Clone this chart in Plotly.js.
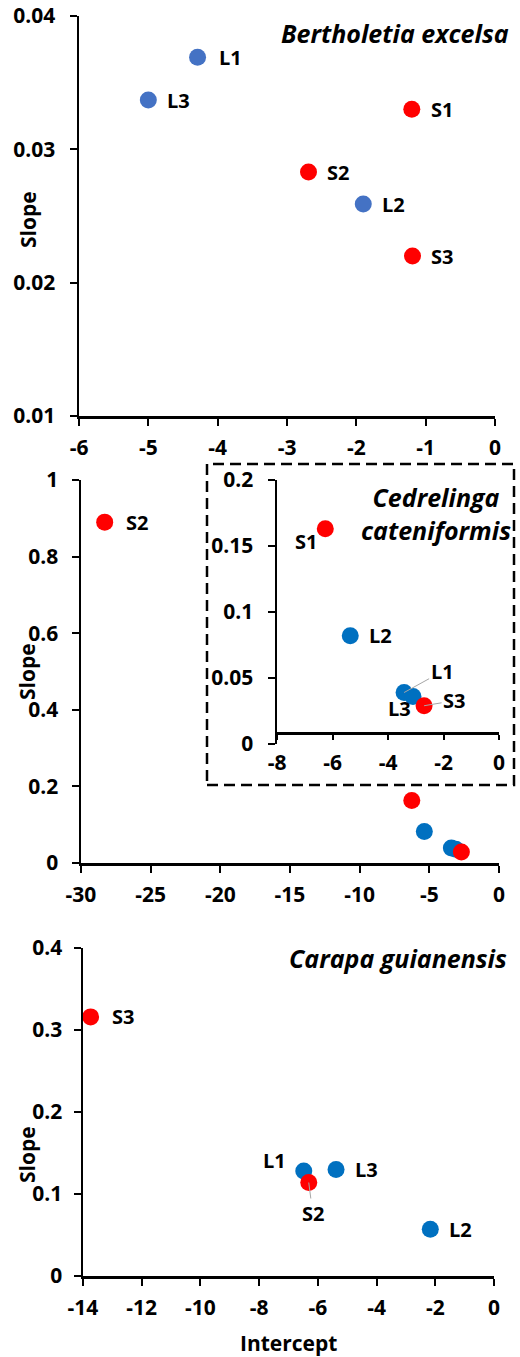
<!DOCTYPE html>
<html>
<head>
<meta charset="utf-8">
<script src="https://cdn.plot.ly/plotly-3.0.1.min.js"></script>
<style>
  html, body { margin: 0; padding: 0; background: #fff; }
  #chart { width: 520px; height: 1357px; }
</style>
</head>
<body>
<div id="chart"></div>
<script>
// ---------- DATA ----------
// Bertholetia excelsa
const beLabels    = ['L1', 'L2', 'L3', 'S1', 'S2', 'S3'];
const beGroup     = ['L', 'L', 'L', 'S', 'S', 'S'];
const beIntercept = [-4.29, -1.90, -5.00, -1.20, -2.69, -1.19];
const beSlope     = [0.0369, 0.0259, 0.0337, 0.0330, 0.0283, 0.0220];

// Cedrelinga cateniformis
const ccLabels    = ['L1', 'L2', 'L3', 'S1', 'S2', 'S3'];
const ccGroup     = ['L', 'L', 'L', 'S', 'S', 'S'];
const ccIntercept = [-3.42, -5.36, -3.10, -6.26, -28.3, -2.70];
const ccSlope     = [0.039, 0.082, 0.036, 0.163, 0.890, 0.029];

// Carapa guianensis
const cgLabels    = ['L1', 'L2', 'L3', 'S2', 'S3'];
const cgGroup     = ['L', 'L', 'L', 'S', 'S'];
const cgIntercept = [-6.48, -2.17, -5.38, -6.31, -13.74];
const cgSlope     = [0.128, 0.057, 0.130, 0.114, 0.316];

// Tick labels
const beXTicks = [-6, -5, -4, -3, -2, -1, 0];
const beYTicks = [0.01, 0.02, 0.03, 0.04];
const ccXTicks = [-30, -25, -20, -15, -10, -5, 0];
const ccYTicks = [0, 0.2, 0.4, 0.6, 0.8, 1];
const inXTicks = [-8, -6, -4, -2, 0];
const inYTicks = [0, 0.05, 0.1, 0.15, 0.2];
const cgXTicks = [-14, -12, -10, -8, -6, -4, -2, 0];
const cgYTicks = [0, 0.1, 0.2, 0.3, 0.4];

const titles = ['Bertholetia excelsa', 'Cedrelinga<br>cateniformis', 'Carapa guianensis'];

// ---------- STYLE ----------
const W = 520, H = 1357;
const px = v => v / W;          // pixel -> paper x
const py = v => 1 - v / H;      // pixel -> paper y
const RED = '#FF0000';
const BLUE1 = '#4472C4';
const BLUE2 = '#0070C0';
const FONT = '"Open Sans", sans-serif';
const tickFont = {family: FONT, size: 21, weight: 'bold', color: '#000'};
const labFont  = {family: FONT, size: 20, weight: 'bold', color: '#000'};

const fmt = v => String(v).replace('\u2212', '-');
function pick(arr, grp, g) { return arr.filter((_, i) => grp[i] === g); }

function axisBase(extra) {
  return Object.assign({
    showgrid: false, zeroline: false, showline: true,
    linecolor: '#000', linewidth: 2.5,
    ticks: 'outside', ticklen: 7, tickwidth: 2, tickcolor: '#000',
    tickfont: tickFont, fixedrange: true
  }, extra);
}

function scatterPair(xArr, yArr, grp, xa, ya, blue) {
  return [
    {type: 'scatter', mode: 'markers', xaxis: xa, yaxis: ya,
     x: pick(xArr, grp, 'L'), y: pick(yArr, grp, 'L'),
     marker: {color: blue, size: 17}, hoverinfo: 'skip', cliponaxis: false},
    {type: 'scatter', mode: 'markers', xaxis: xa, yaxis: ya,
     x: pick(xArr, grp, 'S'), y: pick(yArr, grp, 'S'),
     marker: {color: RED, size: 17}, hoverinfo: 'skip', cliponaxis: false}
  ];
}

const notS2 = (_, i) => ccLabels[i] !== 'S2';
const data = [].concat(
  scatterPair(beIntercept, beSlope, beGroup, 'x', 'y', BLUE1),
  scatterPair(ccIntercept, ccSlope, ccGroup, 'x2', 'y2', BLUE2),
  scatterPair(ccIntercept.filter(notS2), ccSlope.filter(notS2), ccGroup.filter(notS2), 'x3', 'y3', BLUE2),
  scatterPair(cgIntercept, cgSlope, cgGroup, 'x4', 'y4', BLUE2)
);

// ---------- LABEL ANNOTATIONS ----------
const annotations = [];
function rightLabel(xr, yr, lab, xa, ya, shift) {
  annotations.push({x: xr, y: yr, xref: xa, yref: ya, text: lab, showarrow: false,
    xanchor: 'left', yanchor: 'middle', xshift: shift, font: labFont});
}
beLabels.forEach((lab, i) => rightLabel(beIntercept[i], beSlope[i], lab, 'x', 'y', lab === 'L1' ? 19 : 17));
ccLabels.forEach((lab, i) => {
  if (lab === 'S2') rightLabel(ccIntercept[i], ccSlope[i], lab, 'x2', 'y2', 19);
});
ccLabels.forEach((lab, i) => {
  const x = ccIntercept[i], y = ccSlope[i];
  if (lab === 'S2') return;
  if (lab === 'L2') rightLabel(x, y, lab, 'x3', 'y3', 17);
  if (lab === 'S1') annotations.push({x, y, xref: 'x3', yref: 'y3', text: lab, showarrow: false,
    xanchor: 'right', yanchor: 'middle', xshift: -6, yshift: -13, font: labFont});
  if (lab === 'L3') annotations.push({x, y, xref: 'x3', yref: 'y3', text: lab, showarrow: false,
    xanchor: 'center', yanchor: 'middle', xshift: -13, yshift: -12, font: labFont});
  if (lab === 'L1') annotations.push({x, y, xref: 'x3', yref: 'y3', text: lab, showarrow: true,
    ax: 38, ay: -21, arrowhead: 0, arrowwidth: 1, arrowcolor: '#A6A6A6', standoff: 0, font: labFont});
  if (lab === 'S3') annotations.push({x, y, xref: 'x3', yref: 'y3', text: lab, showarrow: true,
    ax: 30, ay: -5, arrowhead: 0, arrowwidth: 1, arrowcolor: '#A6A6A6', standoff: 0, font: labFont});
});
cgLabels.forEach((lab, i) => {
  const x = cgIntercept[i], y = cgSlope[i];
  if (lab === 'L1') annotations.push({x, y, xref: 'x4', yref: 'y4', text: lab, showarrow: false,
    xanchor: 'right', yanchor: 'middle', xshift: -16, yshift: 11, font: labFont});
  else if (lab === 'S2') annotations.push({x, y, xref: 'x4', yref: 'y4', text: lab, showarrow: true,
    ax: 4, ay: 31, arrowhead: 0, arrowwidth: 1, arrowcolor: '#A6A6A6', standoff: 0, font: labFont});
  else rightLabel(x, y, lab, 'x4', 'y4', lab === 'S3' ? 19 : 17);
});

// panel titles
const titleFont = {family: FONT, size: 25, weight: 'bold', style: 'italic', color: '#000'};
annotations.push({xref: 'paper', yref: 'paper', x: px(511), y: py(33), text: titles[0],
  showarrow: false, xanchor: 'right', yanchor: 'middle', font: titleFont});
annotations.push({xref: 'paper', yref: 'paper', x: px(436), y: py(513), text: titles[1],
  showarrow: false, xanchor: 'center', yanchor: 'middle', align: 'center', font: titleFont});
annotations.push({xref: 'paper', yref: 'paper', x: px(509), y: py(958), text: titles[2],
  showarrow: false, xanchor: 'right', yanchor: 'middle', font: titleFont});

// axis titles
const axTitleFont = {family: FONT, size: 21, weight: 'bold', color: '#000'};
[[28, 220], [27, 672], [27, 1155]].forEach(p => annotations.push({
  xref: 'paper', yref: 'paper', x: px(p[0]), y: py(p[1]), text: 'Slope', textangle: -90,
  showarrow: false, xanchor: 'center', yanchor: 'middle', font: axTitleFont}));
annotations.push({xref: 'paper', yref: 'paper', x: px(288), y: py(1343), text: 'Intercept',
  showarrow: false, xanchor: 'center', yanchor: 'middle', font: axTitleFont});

const layout = {
  width: W, height: H,
  margin: {l: 0, r: 0, t: 0, b: 0},
  paper_bgcolor: '#fff', plot_bgcolor: 'rgba(0,0,0,0)',
  showlegend: false,
  xaxis: axisBase({domain: [px(79), px(495)], range: [-6, 0], anchor: 'y',
    tickvals: beXTicks, ticktext: beXTicks.map(fmt), ticklabelstandoff: 4}),
  yaxis: axisBase({domain: [py(416), py(16)], range: [0.01, 0.04], anchor: 'x',
    tickvals: beYTicks, ticktext: beYTicks.map(v => v.toFixed(2)), ticklabelstandoff: 10}),
  xaxis2: axisBase({domain: [px(81), px(499)], range: [-30, 0], anchor: 'y2',
    tickvals: ccXTicks, ticktext: ccXTicks.map(fmt), ticklabelstandoff: 4}),
  yaxis2: axisBase({domain: [py(863), py(480)], range: [0, 1], anchor: 'x2',
    tickvals: ccYTicks, ticktext: ccYTicks.map(fmt), ticklabelstandoff: 9}),
  xaxis3: axisBase({domain: [px(277), px(499)], range: [-8, 0], anchor: 'free', position: py(733),
    tickvals: inXTicks, ticktext: inXTicks.map(fmt), ticklen: 5, ticklabelstandoff: 5}),
  yaxis3: axisBase({domain: [py(744), py(480)], range: [0, 0.2], anchor: 'x3',
    tickvals: inYTicks, ticktext: inYTicks.map(fmt), ticklabelstandoff: 10}),
  xaxis4: axisBase({domain: [px(83), px(494)], range: [-14, 0], anchor: 'y4',
    tickvals: cgXTicks, ticktext: cgXTicks.map(fmt), ticklabelstandoff: 4}),
  yaxis4: axisBase({domain: [py(1276), py(948)], range: [0, 0.4], anchor: 'x4',
    tickvals: cgYTicks, ticktext: cgYTicks.map(fmt), ticklabelstandoff: 7}),
  shapes: [{type: 'rect', xref: 'paper', yref: 'paper',
    x0: px(207), x1: px(514), y0: py(785), y1: py(464),
    line: {color: '#000', width: 2.5, dash: '11px,6px'}, fillcolor: 'rgba(0,0,0,0)', layer: 'below'}],
  annotations: annotations
};

Plotly.newPlot('chart', data, layout, {displayModeBar: false, staticPlot: true});
</script>
</body>
</html>
